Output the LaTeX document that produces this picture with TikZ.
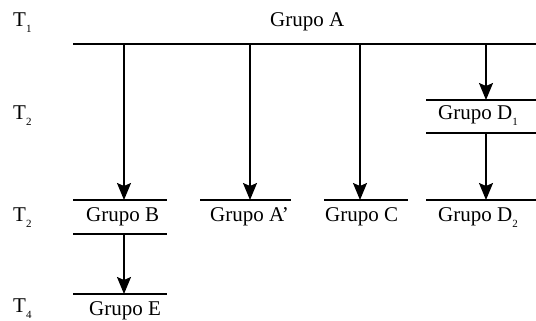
\documentclass[tikz,border=0pt]{standalone}
\usepackage{fontspec}
\setmainfont{Liberation Serif}
\usetikzlibrary{arrows.meta}
\newcommand{\SubIdx}[1]{\raisebox{-6pt}{\fontsize{11}{11}\selectfont #1}}
\begin{document}
\begin{tikzpicture}[x=1pt,y=-1pt,
  lbl/.style={anchor=base west, inner sep=0pt, font=\fontsize{21}{24}\selectfont},
  hline/.style={line width=1.3pt},
  arr/.style={line width=1.7pt, -{Stealth[length=17pt,width=14pt,inset=3pt]}}]
\useasboundingbox (0,0) rectangle (536,321);
% time labels
\node[lbl] (t1) at (13,27) {T\SubIdx{1}};
\node[lbl] (t2) at (13,119) {T\SubIdx{2}};
\node[lbl] (t3) at (13,221) {T\SubIdx{2}};
\node[lbl] (t4) at (13,312) {T\SubIdx{4}};
% group labels
\node[lbl] (gA) at (270,27) {Grupo A};
\node[lbl] (gD1) at (438,119) {Grupo D\SubIdx{1}};
\node[lbl] (gB) at (86,221) {Grupo B};
\node[lbl] (gAp) at (210,221) {Grupo A'};
\node[lbl] (gC) at (325,221) {Grupo C};
\node[lbl] (gD2) at (438,221) {Grupo D\SubIdx{2}};
\node[lbl] (gE) at (89,315) {Grupo E};
% line end points
\coordinate (Al) at (73,44);   \coordinate (Ar) at (536,44);
\coordinate (D1tl) at (426,100); \coordinate (D1tr) at (536,100);
\coordinate (D1bl) at (426,133); \coordinate (D1br) at (536,133);
\coordinate (Btl) at (73,200);  \coordinate (Btr) at (167,200);
\coordinate (Apl) at (200,200); \coordinate (Apr) at (291,200);
\coordinate (Cl) at (324,200);  \coordinate (Cr) at (408,200);
\coordinate (D2l) at (426,200); \coordinate (D2r) at (536,200);
\coordinate (Bbl) at (73,234);  \coordinate (Bbr) at (167,234);
\coordinate (El) at (73,294);   \coordinate (Er) at (167,294);
% arrow end points
\coordinate (sB) at (124,44);  \coordinate (eB) at (124,200);
\coordinate (sAp) at (250,44); \coordinate (eAp) at (250,200);
\coordinate (sC) at (360,44);  \coordinate (eC) at (360,200);
\coordinate (sD1) at (486,44); \coordinate (eD1) at (486,100);
\coordinate (sD2) at (486,133); \coordinate (eD2) at (486,200);
\coordinate (sE) at (124,234); \coordinate (eE) at (124,294);
% horizontal lines
\draw[hline] (Al) -- (Ar);
\draw[hline] (D1tl) -- (D1tr);
\draw[hline] (D1bl) -- (D1br);
\draw[hline] (Btl) -- (Btr);
\draw[hline] (Apl) -- (Apr);
\draw[hline] (Cl) -- (Cr);
\draw[hline] (D2l) -- (D2r);
\draw[hline] (Bbl) -- (Bbr);
\draw[hline] (El) -- (Er);
% arrows
\draw[arr] (sB) -- (eB);
\draw[arr] (sAp) -- (eAp);
\draw[arr] (sC) -- (eC);
\draw[arr] (sD1) -- (eD1);
\draw[arr] (sD2) -- (eD2);
\draw[arr] (sE) -- (eE);
\end{tikzpicture}
\end{document}
